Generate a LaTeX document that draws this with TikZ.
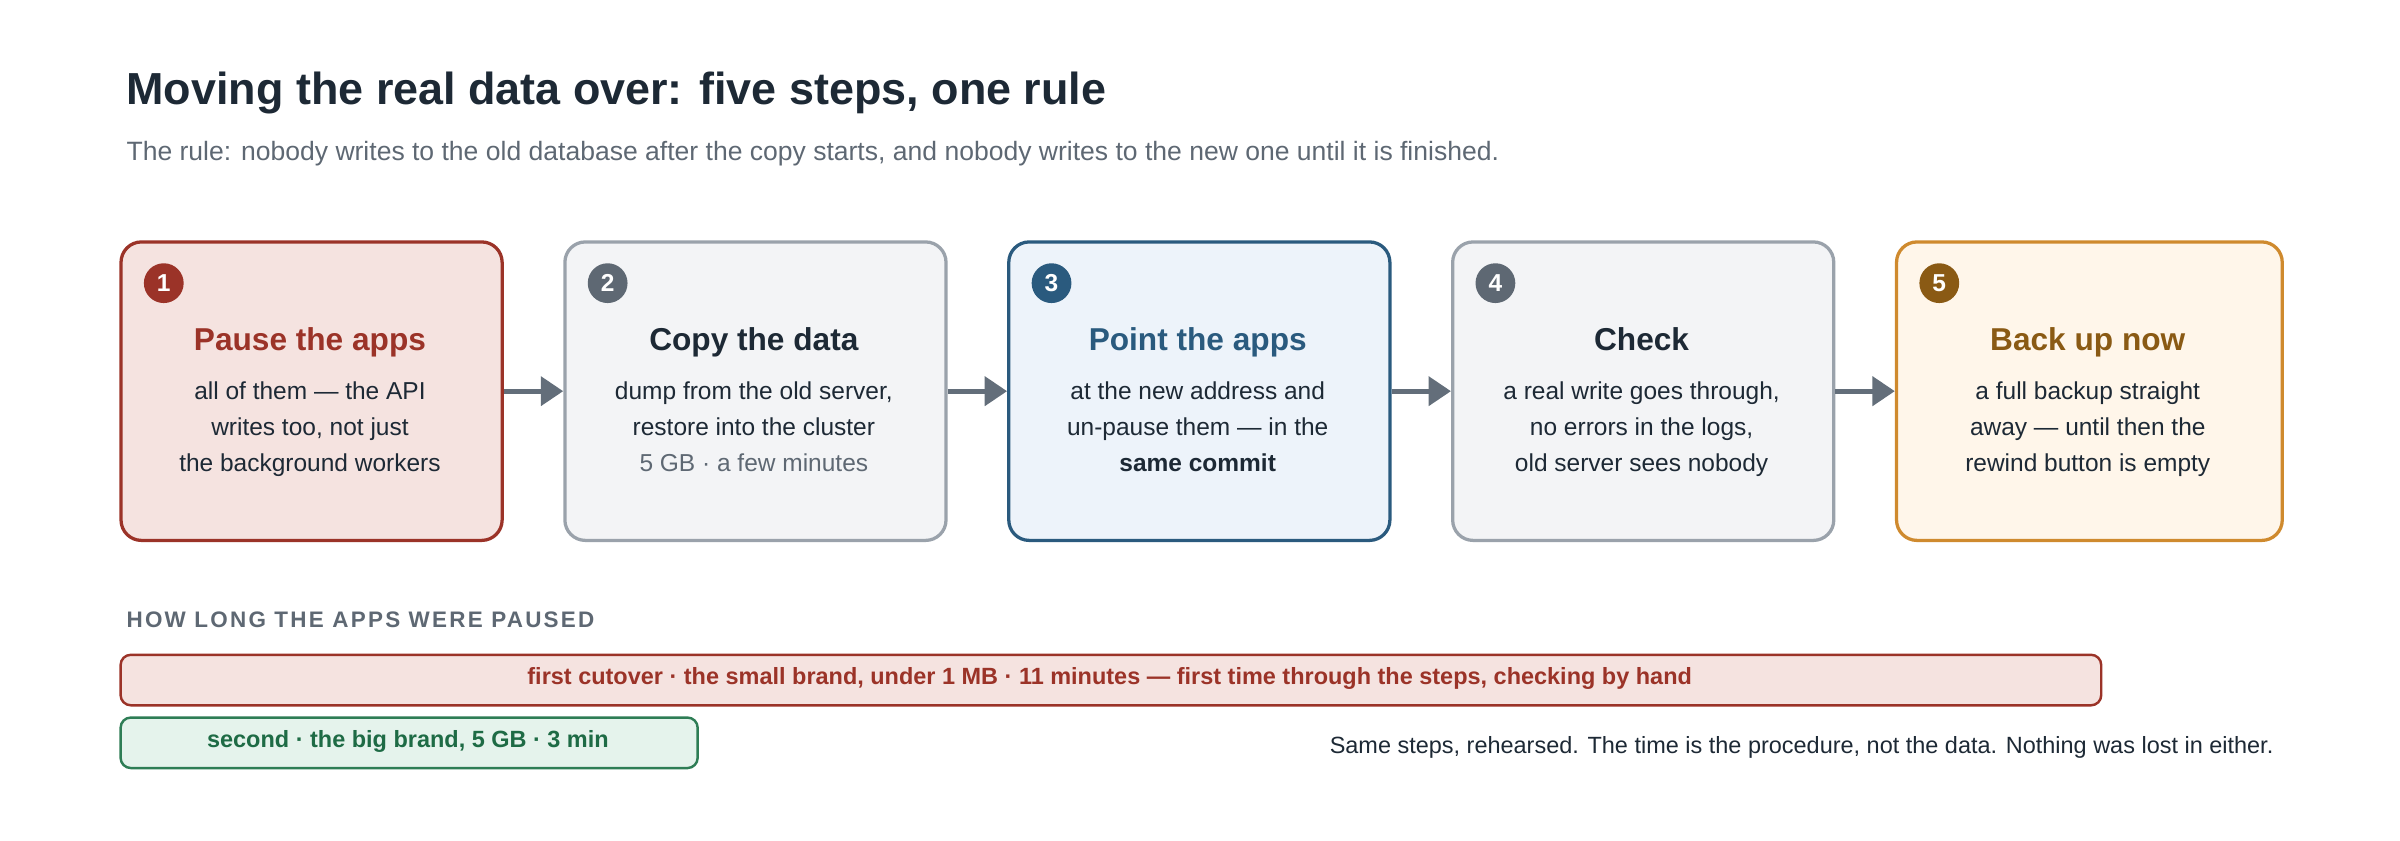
\documentclass[tikz,border=0pt]{standalone}
\usepackage{fontspec}
\setmainfont{Liberation Sans}
\usetikzlibrary{arrows.meta}
\definecolor{ink}{HTML}{1D2935}
\definecolor{mut}{HTML}{5E6873}
\definecolor{rB}{HTML}{9B3328}\definecolor{rF}{HTML}{F5E3E0}
\definecolor{gB}{HTML}{9AA2AB}\definecolor{gF}{HTML}{F3F4F6}\definecolor{gC}{HTML}{5E6873}
\definecolor{bB}{HTML}{2A5A7E}\definecolor{bF}{HTML}{EDF3FA}
\definecolor{oB}{HTML}{CF8A2E}\definecolor{oF}{HTML}{FFF6EA}\definecolor{oT}{HTML}{8A5A14}
\definecolor{nB}{HTML}{2E7D55}\definecolor{nF}{HTML}{E5F3EC}\definecolor{nT}{HTML}{1E6B45}
\definecolor{arr}{HTML}{636E7A}
\begin{document}
\begin{tikzpicture}[x=0.75pt,y=-0.75pt,
 stepbox/.style={draw,line width=1.6pt,rounded corners=10pt,minimum width=186.75pt,minimum height=146.25pt,anchor=north west},
 num/.style={circle,fill,inner sep=0pt,minimum size=19.5pt,text=white,font=\bfseries\fontsize{12}{14}\selectfont},
 head/.style={font=\bfseries\fontsize{15.5}{18}\selectfont,anchor=base},
 body/.style={font=\fontsize{12}{17.5}\selectfont,align=center,text=ink,anchor=north},
 con/.style={draw=arr,line width=2.6pt,-{Triangle[length=11pt,width=14pt]}},
 bar/.style={draw,line width=1.2pt,rounded corners=5pt,anchor=north west,inner sep=0pt}]
\useasboundingbox (0,0) rectangle (1568,549);
\node[anchor=base west,text=ink,font=\bfseries\fontsize{22}{26}\selectfont] (title) at (78,68) {Moving the real data over: five steps, one rule};
\node[anchor=base west,text=mut,font=\fontsize{13}{16}\selectfont] (sub) at (78,105) {The rule: nobody writes to the old database after the copy starts, and nobody writes to the new one until it is finished.};
% boxes
\node[stepbox,draw=rB,fill=rF] (b1) at (78,157) {};
\node[stepbox,draw=gB,fill=gF] (b2) at (368,157) {};
\node[stepbox,draw=bB,fill=bF] (b3) at (658,157) {};
\node[stepbox,draw=gB,fill=gF] (b4) at (948,157) {};
\node[stepbox,draw=oB,fill=oF,minimum width=189pt] (b5) at (1238,157) {};
\node[num,fill=rB] (n1) at (107,185) {1};
\node[num,fill=gC] (n2) at (397,185) {2};
\node[num,fill=bB] (n3) at (687,185) {3};
\node[num,fill=gC] (n4) at (977,185) {4};
\node[num,fill=oT] (n5) at (1267,185) {5};
\node[head,text=rB] (h1) at (202.5,229) {Pause the apps};
\node[head,text=ink] (h2) at (492.5,229) {Copy the data};
\node[head,text=bB] (h3) at (782.5,229) {Point the apps};
\node[head,text=ink] (h4) at (1072.5,229) {Check};
\node[head,text=oT] (h5) at (1364,229) {Back up now};
\node[body] (t1) at (202.5,245) {all of them — the API\\writes too, not just\\the background workers};
\node[body] (t2) at (492.5,245) {dump from the old server,\\restore into the cluster\\\textcolor{mut}{5 GB · a few minutes}};
\node[body] (t3) at (782.5,245) {at the new address and\\un-pause them — in the\\\textbf{same commit}};
\node[body] (t4) at (1072.5,245) {a real write goes through,\\no errors in the logs,\\old server sees nobody};
\node[body] (t5) at (1364,245) {a full backup straight\\away — until then the\\rewind button is empty};
\draw[con] (b1.east) -- (b2.west);
\draw[con] (b2.east) -- (b3.west);
\draw[con] (b3.east) -- (b4.west);
\draw[con] (b4.east) -- (b5.west);
% timeline
\node[anchor=base west,text=mut,font=\bfseries\fontsize{11}{13}\selectfont\addfontfeatures{LetterSpace=10}] (lab) at (78,410) {HOW LONG THE APPS WERE PAUSED};
\node[bar,draw=rB,fill=rF,minimum width=970.5pt,minimum height=24.75pt] (r1) at (78,427) {};
\node[text=rB,font=\bfseries\fontsize{11.5}{14}\selectfont] (r1t) at (725,443.5) {first cutover · the small brand, under 1 MB · 11 minutes — first time through the steps, checking by hand};
\node[bar,draw=nB,fill=nF,minimum width=282.75pt,minimum height=24.75pt] (r2) at (78,468) {};
\node[text=nT,font=\bfseries\fontsize{11.5}{14}\selectfont] (r2t) at (266.5,484.5) {second · the big brand, 5 GB · 3 min};
\node[anchor=base east,text=ink,font=\fontsize{11.5}{14}\selectfont] (note) at (1490,492) {Same steps, rehearsed. The time is the procedure, not the data. Nothing was lost in either.};
\end{tikzpicture}
\end{document}
